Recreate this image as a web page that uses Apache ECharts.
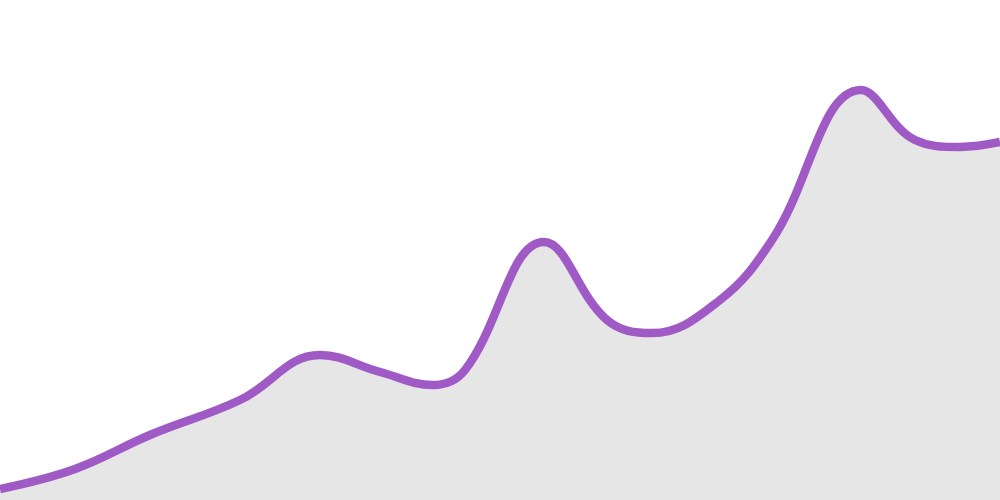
<!DOCTYPE html>
<html>
<head>
<meta charset="utf-8">
<script src="https://cdn.jsdelivr.net/npm/echarts@6/dist/echarts.min.js"></script>
<style>
  html, body { margin: 0; padding: 0; background: #fff; }
  #chart { width: 1000px; height: 500px; }
</style>
</head>
<body>
<div id="chart"></div>
<script>
// positions along the x range and the values
var xs = [0, 75, 150, 240, 320, 380, 433, 465, 544, 607, 652, 720, 772, 861, 915, 960, 1000];
var values = [11, 31, 65, 100, 145, 128, 115, 130, 258, 180, 167, 200, 260, 410, 360, 353, 358];

var points = xs.map(function (x, i) { return [x, values[i]]; });

var myChart = echarts.init(document.getElementById('chart'), null, { renderer: 'canvas' });

var option = {
    animation: false,
    grid: { left: 0, right: 0, top: 0, bottom: 0 },
    xAxis: {
        type: 'value',
        min: 0,
        max: 1000,
        show: false
    },
    yAxis: {
        type: 'value',
        min: 0,
        max: 500,
        show: false
    },
    series: [
        {
            type: 'line',
            data: points,
            smooth: 0.4,
            symbol: 'none',
            lineStyle: { color: '#a05ac5', width: 8.5 },
            areaStyle: { color: '#e6e6e6', opacity: 1 }
        }
    ]
};

myChart.setOption(option);
</script>
</body>
</html>
